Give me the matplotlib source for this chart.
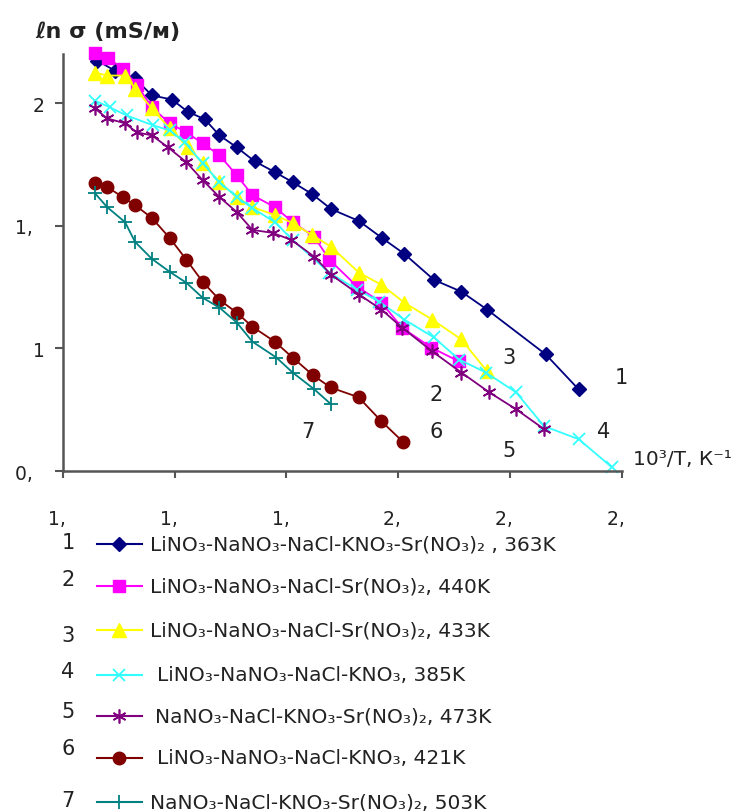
import matplotlib
matplotlib.use("Agg")
import matplotlib.pyplot as plt
from matplotlib.lines import Line2D

# data (x = 10^3/T, y = ln sigma)
x1 = [1.461, 1.493, 1.529, 1.559, 1.595, 1.623, 1.654, 1.680, 1.711, 1.743, 1.779,
      1.811, 1.846, 1.880, 1.930, 1.971, 2.011, 2.064, 2.113, 2.159, 2.264, 2.323]
y1 = [2.175, 2.134, 2.102, 2.033, 2.016, 1.967, 1.935, 1.870, 1.821, 1.764, 1.720,
      1.679, 1.630, 1.569, 1.520, 1.451, 1.386, 1.280, 1.232, 1.159, 0.976, 0.833]

x2 = [1.457, 1.480, 1.507, 1.532, 1.559, 1.591, 1.621, 1.650, 1.680, 1.711, 1.739,
      1.779, 1.811, 1.850, 1.877, 1.927, 1.970, 2.007, 2.059, 2.109]
y2 = [2.207, 2.187, 2.142, 2.077, 1.984, 1.919, 1.882, 1.837, 1.789, 1.707, 1.626,
      1.577, 1.516, 1.455, 1.362, 1.252, 1.187, 1.085, 1.004, 0.947]

x3 = [1.457, 1.479, 1.511, 1.529, 1.559, 1.591, 1.623, 1.650, 1.680, 1.711, 1.739,
      1.779, 1.811, 1.846, 1.880, 1.930, 1.970, 2.011, 2.061, 2.113, 2.159]
y3 = [2.126, 2.114, 2.114, 2.061, 1.980, 1.898, 1.821, 1.756, 1.679, 1.618, 1.577,
      1.545, 1.512, 1.463, 1.415, 1.309, 1.260, 1.187, 1.118, 1.037, 0.907]

x4 = [1.457, 1.484, 1.514, 1.561, 1.591, 1.618, 1.650, 1.680, 1.711, 1.739, 1.779,
      1.811, 1.877, 1.927, 1.966, 2.011, 2.064, 2.109, 2.157, 2.211, 2.261, 2.323, 2.382]
y4 = [2.012, 1.984, 1.951, 1.911, 1.890, 1.841, 1.756, 1.679, 1.618, 1.573, 1.516,
      1.443, 1.309, 1.240, 1.191, 1.118, 1.045, 0.955, 0.902, 0.821, 0.683, 0.630, 0.516]

x5 = [1.457, 1.479, 1.511, 1.532, 1.559, 1.588, 1.621, 1.650, 1.680, 1.711, 1.739,
      1.775, 1.809, 1.850, 1.880, 1.930, 1.970, 2.007, 2.061, 2.113, 2.163, 2.211, 2.261]
y5 = [1.980, 1.939, 1.919, 1.882, 1.870, 1.821, 1.760, 1.687, 1.618, 1.557, 1.484,
      1.472, 1.443, 1.374, 1.301, 1.220, 1.159, 1.085, 0.988, 0.902, 0.821, 0.752, 0.671]

x6 = [1.457, 1.479, 1.507, 1.529, 1.559, 1.591, 1.621, 1.650, 1.680, 1.711, 1.739,
      1.779, 1.811, 1.848, 1.879, 1.929, 1.970, 2.009]
y6 = [1.675, 1.659, 1.618, 1.585, 1.533, 1.451, 1.362, 1.272, 1.199, 1.146, 1.089,
      1.028, 0.963, 0.890, 0.841, 0.801, 0.703, 0.618]

x7 = [1.457, 1.479, 1.511, 1.529, 1.559, 1.591, 1.621, 1.650, 1.680, 1.711, 1.739,
      1.782, 1.811, 1.850, 1.880]
y7 = [1.634, 1.577, 1.516, 1.435, 1.366, 1.313, 1.268, 1.207, 1.167, 1.106, 1.028,
      0.963, 0.902, 0.833, 0.772]

labels = [
    "LiNO\u2083-NaNO\u2083-NaCl-KNO\u2083-Sr(NO\u2083)\u2082 , 363K",
    "LiNO\u2083-NaNO\u2083-NaCl-Sr(NO\u2083)\u2082, 440K",
    "LiNO\u2083-NaNO\u2083-NaCl-Sr(NO\u2083)\u2082, 433K",
    "LiNO\u2083-NaNO\u2083-NaCl-KNO\u2083, 385K",
    "NaNO\u2083-NaCl-KNO\u2083-Sr(NO\u2083)\u2082, 473K",
    "LiNO\u2083-NaNO\u2083-NaCl-KNO\u2083, 421K",
    "NaNO\u2083-NaCl-KNO\u2083-Sr(NO\u2083)\u2082, 503K",
]

xticks = [1.4, 1.6, 1.8, 2.0, 2.2, 2.4]
xticklabels = ["1,\u2007", "1,\u2007", "1,\u2007", "2,\u2007", "2,\u2007", "2,\u2007"]
yticks = [0.5, 1.0, 1.5, 2.0]
yticklabels = ["0,\u2007", "1", "1,\u2007", "2"]

# curve number labels inside the plot
num_x = [2.400, 2.068, 2.198, 2.368, 2.198, 2.068, 1.838]
num_y = [0.882, 0.813, 0.967, 0.663, 0.585, 0.663, 0.663]

series = [(x1, y1), (x2, y2), (x3, y3), (x4, y4), (x5, y5), (x6, y6), (x7, y7)]
styles = [
    dict(color="#000080", marker="D", ms=7, mec="#000080"),
    dict(color="#FF00FF", marker="s", ms=8.5, mec="#FF00FF"),
    dict(color="#FFFF00", marker="^", ms=10, mec="#FFFF00"),
    dict(color="#33FFFF", marker="x", ms=8, mew=1.3),
    dict(color="#800080", marker=(6, 2, 0), ms=10, mew=1.2),
    dict(color="#800000", marker="o", ms=9, mec="#800000"),
    dict(color="#008080", marker="+", ms=10, mew=1.3),
]

plt.rcParams["font.family"] = ["DejaVu Sans"]

fig = plt.figure(figsize=(7.41, 8.12), dpi=100)
ax = fig.add_axes([0.085, 0.4187, 0.754, 0.513])

for (xs, ys), st in zip(series, styles):
    ax.plot(xs, ys, lw=1.3, clip_on=False, **st)

for i, (tx, ty) in enumerate(zip(num_x, num_y)):
    ax.text(tx, ty, str(i + 1), fontsize=15, ha="center", va="center", color="#222222")

ax.set_xlim(1.4, 2.4)
ax.set_ylim(0.5, 2.2)
ax.set_xticks(xticks)
ax.set_xticklabels(xticklabels)
ax.set_yticks(yticks)
ax.set_yticklabels(yticklabels)
for s in ["top", "right"]:
    ax.spines[s].set_visible(False)
for s in ["left", "bottom"]:
    ax.spines[s].set_color("#555555")
    ax.spines[s].set_linewidth(1.8)
ax.tick_params(axis="x", length=5, width=1.5, color="#555555", pad=22, labelsize=13.5,
               labelcolor="#222222")
ax.tick_params(axis="y", length=6, width=1.5, color="#555555", pad=7, labelsize=13.5,
               labelcolor="#222222")

fig.text(35 / 741, 1 - 32 / 812, "\u2113n \u03c3 (mS/\u043c)", fontsize=16,
         fontweight="bold", va="center", ha="left", color="#222222")
fig.text(633 / 741, 1 - 460 / 812, "10\u00b3/T, \u041a\u207b\u00b9", fontsize=14.5,
         va="center", ha="left", color="#222222")

# legend drawn by hand with the numbers on the left
row_y = [545, 587, 631, 676, 717, 759, 803]
num_yy = [543, 580, 636, 672, 712, 749, 801]
text_x = [150, 150, 150, 157, 155, 157, 150]
for i, st in enumerate(styles):
    yy = 1 - row_y[i] / 812
    fig.text(68 / 741, 1 - num_yy[i] / 812, str(i + 1), fontsize=15, ha="center",
             va="center", color="#222222")
    fig.add_artist(Line2D([97 / 741, 142 / 741], [yy, yy], transform=fig.transFigure,
                          color=st["color"], lw=1.5))
    mk = {k: v for k, v in st.items() if k != "color"}
    fig.add_artist(Line2D([119 / 741], [yy], transform=fig.transFigure,
                          color=st["color"], lw=0, **mk))
    fig.text(text_x[i] / 741, yy, labels[i], fontsize=14.5, ha="left", va="center",
             color="#222222")

fig.savefig("out.png", dpi=100)
